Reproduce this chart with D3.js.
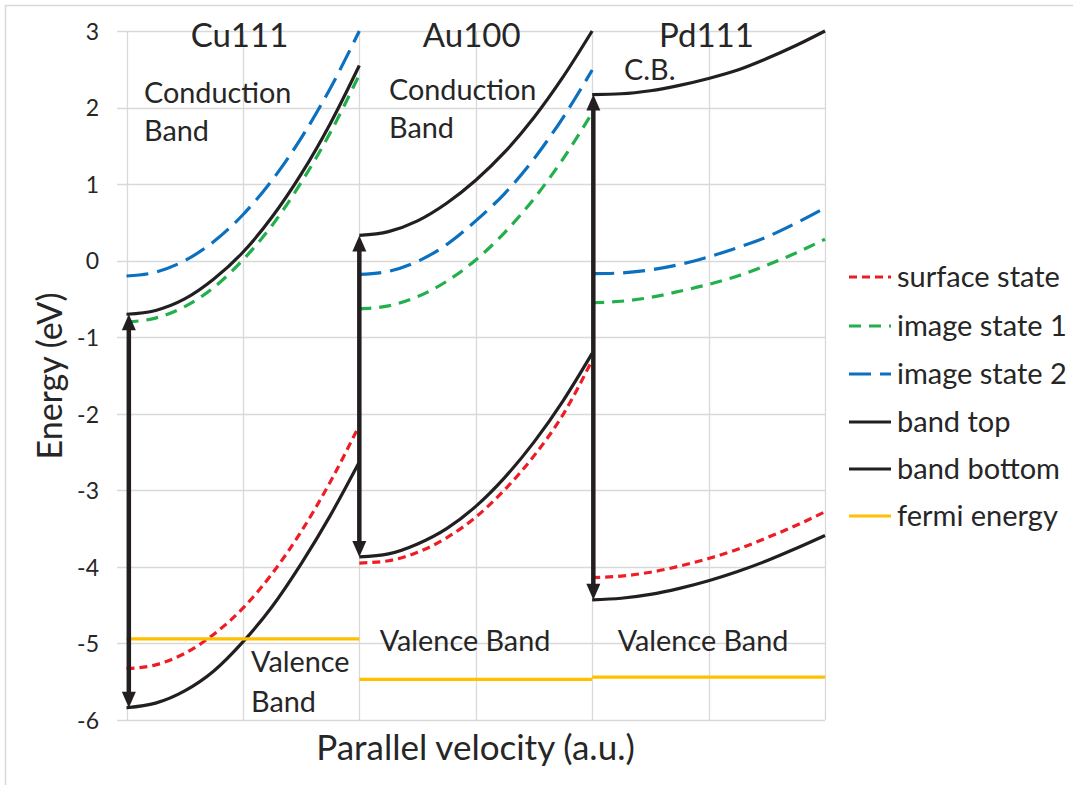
<!DOCTYPE html>
<html><head><meta charset="utf-8">
<script src="https://cdn.jsdelivr.net/npm/d3@7"></script>
<style>
html,body{margin:0;padding:0;background:#fff;}
svg{display:block;font-family:Lato,"Open Sans",sans-serif;}
</style></head>
<body>
<svg id="chart" width="1073" height="785"></svg>
<script>
// ---------- data ----------
const panels = ["Cu111", "Au100", "Pd111"];
const panelOffset = [0, 2, 4];
const vel = [0, 0.25, 0.5, 0.75, 1, 1.25, 1.5, 1.75, 2];
const yTicks = [-6, -5, -4, -3, -2, -1, 0, 1, 2, 3];

const surfaceState = [
  [-5.33, -5.28, -5.13, -4.88, -4.54, -4.09, -3.54, -2.89, -2.15],
  [-3.95, -3.92, -3.81, -3.62, -3.35, -2.99, -2.55, -2.01, -1.30],
  [-4.14, -4.12, -4.07, -3.99, -3.89, -3.77, -3.62, -3.46, -3.28]
];
const imageState1 = [
  [-0.80, -0.75, -0.60, -0.35, 0.01, 0.46, 1.02, 1.67, 2.43],
  [-0.63, -0.59, -0.47, -0.27, 0.01, 0.37, 0.81, 1.33, 1.93],
  [-0.55, -0.53, -0.48, -0.40, -0.31, -0.20, -0.06, 0.10, 0.28]
];
const imageState2 = [
  [-0.20, -0.15, 0.00, 0.25, 0.60, 1.05, 1.60, 2.25, 3.00],
  [-0.18, -0.14, -0.01, 0.21, 0.52, 0.88, 1.33, 1.87, 2.49],
  [-0.17, -0.16, -0.12, -0.05, 0.05, 0.17, 0.31, 0.49, 0.69]
];
const bandTop = [
  [-0.70, -0.65, -0.50, -0.24, 0.11, 0.57, 1.13, 1.79, 2.55],
  [0.33, 0.38, 0.52, 0.75, 1.05, 1.42, 1.87, 2.40, 3.00],
  [2.17, 2.18, 2.22, 2.29, 2.38, 2.49, 2.64, 2.81, 3.00]
];
const bandBottom = [
  [-5.84, -5.78, -5.62, -5.36, -4.98, -4.52, -3.96, -3.33, -2.63],
  [-3.87, -3.83, -3.70, -3.50, -3.21, -2.83, -2.37, -1.83, -1.21],
  [-4.43, -4.41, -4.36, -4.28, -4.18, -4.06, -3.92, -3.76, -3.59]
];
const fermiEnergy = [-4.94, -5.47, -5.44];
const arrowX = [0.02, 2.0, 4.01];

const legendNames = ["surface state", "image state 1", "image state 2", "band top", "band bottom", "fermi energy"];

// ---------- styles ----------
const colors = {surface: "#ee1c25", img1: "#21b04b", img2: "#0a70bf", black: "#231f20", fermi: "#ffc000"};
const dashes = {surface: "8,5", img1: "12,8", img2: "22,9", black: null, fermi: null};

const svg = d3.select("#chart");
const x = d3.scaleLinear().domain([0, 6]).range([126.5, 825]);
const y = d3.scaleLinear().domain([-6, 3]).range([720, 31]);

// outer chart border
svg.append("rect").attr("x", 5.5).attr("y", 5.5).attr("width", 1100).attr("height", 1000)
  .attr("fill", "none").attr("stroke", "#d9d9d9").attr("stroke-width", 1.5);

// grid
const grid = svg.append("g");
grid.selectAll("line.h").data(yTicks).join("line")
  .attr("x1", 117).attr("x2", x(6)).attr("y1", d => Math.round(y(d)) + 0.5).attr("y2", d => Math.round(y(d)) + 0.5)
  .attr("stroke", "#d9d9d9").attr("stroke-width", 1.3);
grid.selectAll("line.v").data(d3.range(0, 7)).join("line")
  .attr("x1", d => Math.round(x(d)) + 0.5).attr("x2", d => Math.round(x(d)) + 0.5).attr("y1", y(3)).attr("y2", y(-6))
  .attr("stroke", "#d9d9d9").attr("stroke-width", 1.3);

// y tick labels
const yAxis = d3.axisLeft(y).tickValues(yTicks).tickSize(0).tickPadding(0).tickFormat(d => String(d));
const ya = svg.append("g").attr("transform", "translate(99,0)").call(yAxis);
ya.select(".domain").remove();
ya.selectAll("text").attr("font-size", 23).attr("fill", "#262626").attr("font-family", "Lato, sans-serif").attr("dy", "0.36em");

// curves
const line = d3.line().curve(d3.curveMonotoneX);
function drawSeries(arr, key) {
  arr.forEach((vals, p) => {
    const pts = vel.map((v, i) => [x(v + panelOffset[p]), y(vals[i])]);
    svg.append("path").attr("d", line(pts)).attr("fill", "none")
      .attr("stroke", colors[key]).attr("stroke-width", 3.2)
      .attr("stroke-dasharray", dashes[key]);
  });
}
drawSeries(surfaceState, "surface");
drawSeries(imageState1, "img1");
drawSeries(imageState2, "img2");
drawSeries(bandTop, "black");
drawSeries(bandBottom, "black");

// fermi energy
fermiEnergy.forEach((e, p) => {
  svg.append("line").attr("x1", x(panelOffset[p])).attr("x2", x(panelOffset[p] + 2))
    .attr("y1", y(e)).attr("y2", y(e)).attr("stroke", colors.fermi).attr("stroke-width", 3.2);
});

// double arrows (band gap)
arrowX.forEach((ax, p) => {
  const cx = x(ax), yt = y(bandTop[p][0]), yb = y(bandBottom[p][0]);
  const hw = 7, hh = 16;
  svg.append("line").attr("x1", cx).attr("x2", cx).attr("y1", yt + hh - 2).attr("y2", yb - hh + 2)
    .attr("stroke", colors.black).attr("stroke-width", 4.5);
  svg.append("path").attr("d", `M${cx},${yt} L${cx - hw},${yt + hh} L${cx + hw},${yt + hh} Z`).attr("fill", colors.black);
  svg.append("path").attr("d", `M${cx},${yb} L${cx - hw},${yb - hh} L${cx + hw},${yb - hh} Z`).attr("fill", colors.black);
});

// text annotations
const txtColor = "#262626";
function txt(s, tx, ty, size, anchor) {
  svg.append("text").attr("x", tx).attr("y", ty).attr("font-size", size)
    .attr("text-anchor", anchor || "start").attr("fill", txtColor).text(s);
}
const titleCenters = [239.5, 471.7, 706.5];
panels.forEach((name, i) => txt(name, titleCenters[i], 47, 33, "middle"));
txt("Conduction", 144, 103, 28.8);
txt("Band", 144, 141, 28.8);
txt("Conduction", 389, 100, 28.8);
txt("Band", 389, 138, 28.8);
txt("C.B.", 624, 80, 28.8);
txt("Valence", 251, 672, 28.8);
txt("Band", 251, 712, 28.8);
txt("Valence Band", 465, 651, 28.8, "middle");
txt("Valence Band", 703, 651, 28.8, "middle");

// axis titles
svg.append("text").attr("transform", "translate(62,376) rotate(-90)").attr("text-anchor", "middle")
  .attr("font-size", 34).attr("fill", txtColor).text("Energy (eV)");
svg.append("text").attr("x", 475.5).attr("y", 760).attr("text-anchor", "middle")
  .attr("font-size", 35).attr("fill", txtColor).text("Parallel velocity (a.u.)");

// legend
const legendKeys = ["surface", "img1", "img2", "black", "black", "fermi"];
const legendY = [277, 326, 374, 422, 469, 516];
legendNames.forEach((name, i) => {
  const k = legendKeys[i];
  svg.append("line").attr("x1", 849).attr("x2", 891).attr("y1", legendY[i]).attr("y2", legendY[i])
    .attr("stroke", colors[k]).attr("stroke-width", 3.2).attr("stroke-dasharray", dashes[k]);
  svg.append("text").attr("x", 897).attr("y", legendY[i]).attr("dy", "0.35em")
    .attr("font-size", 29).attr("fill", txtColor).text(name);
});
</script>
</body></html>
